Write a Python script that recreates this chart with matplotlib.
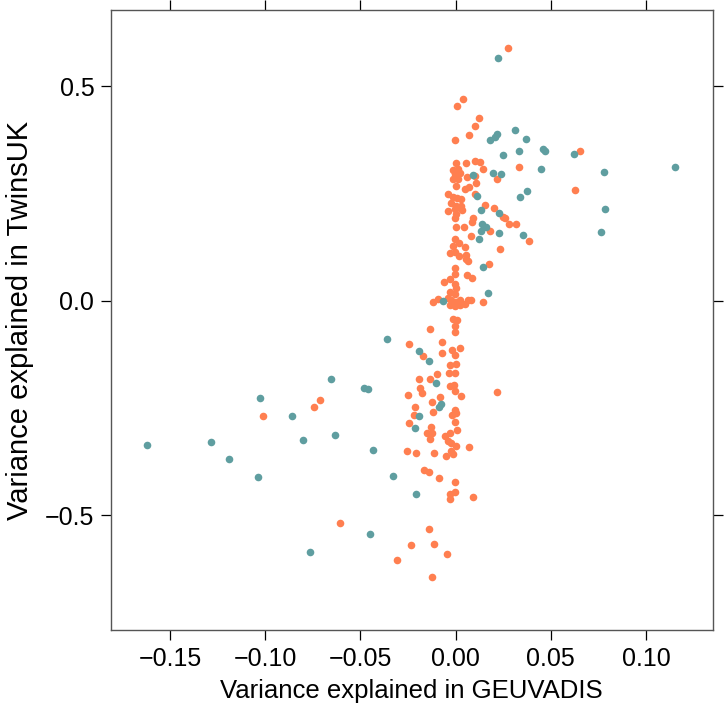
import matplotlib
matplotlib.use("Agg")
import matplotlib.pyplot as plt

plt.rcParams['font.family'] = ['Liberation Sans', 'DejaVu Sans']

# teal group
teal_x = [0.0222, 0.0310, 0.0217, 0.0205, 0.0180, 0.0371, 0.0460, 0.0471, 0.0621, 0.0332,
          0.0248, 0.1154, 0.0780, 0.0450, 0.0198, 0.0241, 0.0091, 0.0376, 0.0337, 0.0114,
          0.0785, 0.0131, 0.0229, 0.0766, 0.0138, 0.0161, 0.0136, 0.0226, 0.0352, 0.0121,
          0.0143, 0.0169, -0.0068, -0.0358, -0.0194, -0.0140, -0.0105, -0.0079, -0.0088, -0.0194,
          -0.0215, -0.0434, -0.0329, -0.0210, -0.0448, -0.0656, -0.0481, -0.0462, -0.1028, -0.0860,
          -0.1618, -0.1282, -0.1191, -0.1040, -0.0799, -0.0635, -0.0766]
teal_y = [0.566, 0.397, 0.390, 0.382, 0.374, 0.378, 0.355, 0.349, 0.343, 0.350,
          0.339, 0.311, 0.301, 0.308, 0.298, 0.296, 0.294, 0.255, 0.241, 0.245,
          0.215, 0.211, 0.204, 0.161, 0.180, 0.172, 0.163, 0.157, 0.154, 0.144,
          0.079, 0.018, -0.001, -0.088, -0.117, -0.139, -0.192, -0.241, -0.248, -0.269,
          -0.297, -0.348, -0.407, -0.450, -0.544, -0.181, -0.203, -0.206, -0.227, -0.269,
          -0.337, -0.328, -0.368, -0.411, -0.325, -0.312, -0.585]

# orange group
orange_x = [0.0274, 0.0040, 0.0005, 0.0122, 0.0100, 0.0071, -0.0002, 0.0654, 0.0334, 0.0215,
            0.0626, 0.0103, 0.0127, 0.0004, 0.0056, 0.0142, -0.0014, 0.0012, -0.0005, 0.0021,
            0.0061, 0.0100, -0.0014, 0.0012, 0.0004, 0.0105, 0.0049, 0.0073, 0.0101, -0.0040,
            -0.0014, 0.0007, 0.0030, -0.0023, 0.0004, 0.0030, -0.0005, 0.0157, 0.0203, -0.0040,
            0.0004, 0.0033, -0.0002, 0.0091, 0.0088, 0.0248, 0.0262, 0.0283, 0.0315, 0.0004,
            0.0042, 0.0182, 0.0079, 0.0235, -0.0005, 0.0017, -0.0014, 0.0047, -0.0031, -0.0002,
            0.0016, 0.0056, 0.0052, 0.0173, -0.0002, 0.0388, 0.0063, -0.0004, 0.0059, 0.0084,
            -0.0061, -0.0028, -0.0002, 0.0000, -0.0031, -0.0005, -0.0119, -0.0093, -0.0040, -0.0023,
            0.0000, 0.0021, 0.0047, 0.0065, 0.0082, -0.0031, -0.0005, 0.0021, 0.0143, -0.0014,
            0.0009, -0.0005, -0.0002, -0.0133, -0.0245, -0.0072, -0.0172, -0.0073, -0.0019, 0.0021,
            -0.0004, -0.0031, 0.0004, -0.0037, -0.0004, -0.0190, -0.0136, -0.0096, -0.0185, -0.0177,
            -0.0031, -0.0010, -0.0005, 0.0026, -0.0250, 0.0217, -0.0080, -0.0124, -0.0214, -0.0002,
            -0.0021, 0.0004, -0.0117, -0.0219, -0.0002, 0.0009, -0.0028, -0.0243, -0.0127, -0.0151,
            -0.0122, -0.0133, -0.0058, -0.0040, -0.0023, 0.0004, 0.0068, -0.0256, -0.0206, -0.0114,
            -0.0026, -0.0014, -0.0052, -0.0168, -0.0140, -0.0088, -0.0002, -0.0002, -0.0028, -0.0030,
            0.0093, -0.0142, -0.0232, -0.0115, -0.0046, -0.0308, -0.0124, -0.0710, -0.0745, -0.1009,
            -0.0609]
orange_y = [0.590, 0.470, 0.455, 0.425, 0.407, 0.387, 0.375, 0.349, 0.313, 0.283,
            0.259, 0.326, 0.324, 0.322, 0.322, 0.308, 0.306, 0.307, 0.296, 0.299,
            0.289, 0.291, 0.285, 0.283, 0.268, 0.274, 0.261, 0.265, 0.249, 0.250,
            0.242, 0.240, 0.238, 0.227, 0.220, 0.220, 0.215, 0.223, 0.217, 0.209,
            0.203, 0.211, 0.194, 0.192, 0.184, 0.196, 0.193, 0.178, 0.180, 0.171,
            0.171, 0.163, 0.151, 0.120, 0.145, 0.136, 0.129, 0.125, 0.111, 0.115,
            0.104, 0.106, 0.098, 0.087, 0.077, 0.139, 0.094, 0.063, 0.060, 0.053,
            0.045, 0.051, 0.040, 0.030, 0.020, 0.017, -0.002, 0.005, 0.007, 0.001,
            -0.003, 0.001, -0.008, 0.003, 0.001, -0.009, -0.011, -0.009, -0.002, -0.042,
            -0.044, -0.058, -0.073, -0.065, -0.100, -0.096, -0.129, -0.122, -0.114, -0.110,
            -0.126, -0.149, -0.146, -0.168, -0.168, -0.181, -0.181, -0.170, -0.203, -0.214,
            -0.198, -0.196, -0.210, -0.221, -0.220, -0.213, -0.224, -0.236, -0.248, -0.255,
            -0.266, -0.262, -0.260, -0.266, -0.283, -0.301, -0.308, -0.285, -0.295, -0.308,
            -0.307, -0.322, -0.315, -0.326, -0.332, -0.338, -0.341, -0.350, -0.354, -0.354,
            -0.350, -0.356, -0.361, -0.395, -0.399, -0.412, -0.421, -0.445, -0.451, -0.461,
            -0.458, -0.531, -0.568, -0.567, -0.591, -0.604, -0.643, -0.231, -0.247, -0.269,
            -0.518]

x_ticks = [-0.15, -0.10, -0.05, 0.00, 0.05, 0.10]
x_labels = ['\u22120.15', '\u22120.10', '\u22120.05', '0.00', '0.05', '0.10']
y_ticks = [-0.5, 0.0, 0.5]
y_labels = ['\u22120.5', '0.0', '0.5']

fig = plt.figure(figsize=(7.25, 7.13), dpi=100)
ax = fig.add_axes([0.153, 0.1164, 0.830, 0.8697])

ax.scatter(orange_x, orange_y, s=30, color='#FF7F50', linewidths=0, zorder=3)
ax.scatter(teal_x, teal_y, s=30, color='#5F9EA0', linewidths=0, zorder=3)

ax.set_xlim(-0.181, 0.135)
ax.set_ylim(-0.767, 0.678)

ax.set_xticks(x_ticks)
ax.set_xticklabels(x_labels)
ax.set_yticks(y_ticks)
ax.set_yticklabels(y_labels)
ax.tick_params(direction='out', length=7, width=0.9, labelsize=18,
               top=True, right=True, pad=5)

for sp in ax.spines.values():
    sp.set_color('#555555')
    sp.set_linewidth(1.0)

ax.set_xlabel('Variance explained in GEUVADIS', fontsize=18.5, labelpad=6)
ax.set_ylabel('Variance explained in TwinsUK', fontsize=21)
ax.yaxis.set_label_coords(-0.128, 0.5)

fig.savefig('out.png', dpi=100)
